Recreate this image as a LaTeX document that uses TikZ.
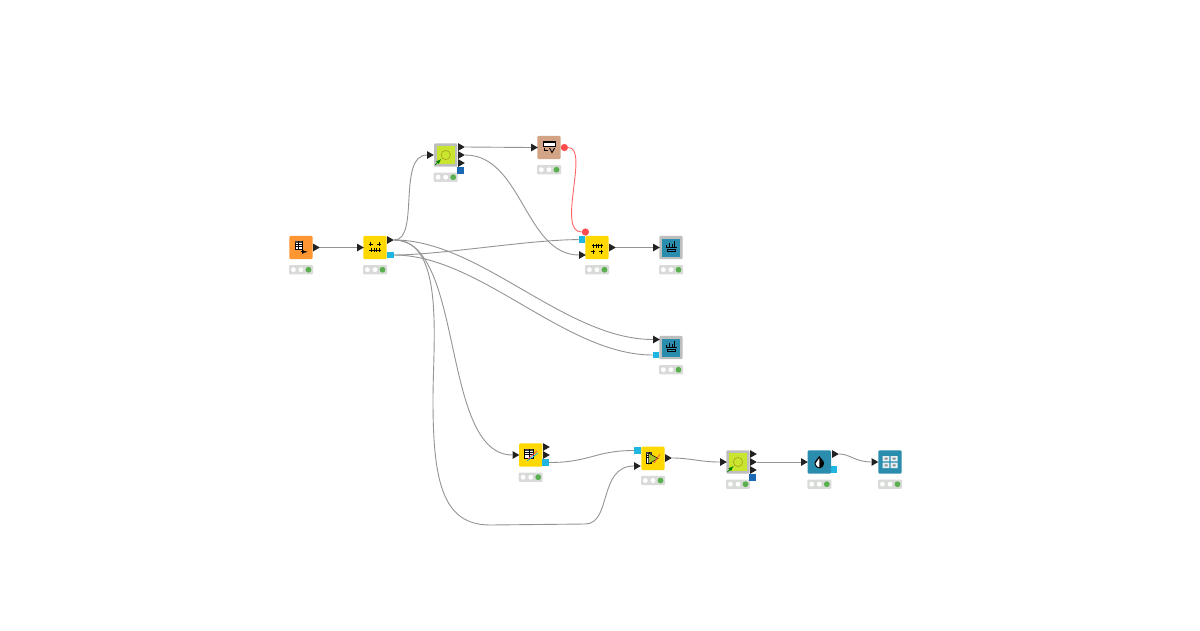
\documentclass[tikz,border=0pt]{standalone}
\usepackage{tikz}
\usetikzlibrary{shapes.geometric}

\definecolor{readercol}{HTML}{FF9632}
\definecolor{manipcol}{HTML}{FFD800}
\definecolor{loopcol}{HTML}{C9E52E}
\definecolor{browncol}{HTML}{D2A384}
\definecolor{vizcol}{HTML}{2B8DAE}
\definecolor{framecol}{HTML}{BDBFBF}
\definecolor{barcol}{HTML}{D9DBD9}
\definecolor{okcol}{HTML}{5AAF4E}
\definecolor{cyancol}{HTML}{1FB6E2}
\definecolor{varcol}{HTML}{1B69B2}
\definecolor{redcol}{HTML}{FF4B4B}
\definecolor{wirecol}{HTML}{949494}
\definecolor{tipcol}{HTML}{222222}

\tikzset{
    knode/.style={draw=none,rounded corners=1.2pt,minimum size=23.4pt,inner sep=0,fill=#1},
    innerbox/.style={draw=none,minimum size=18pt,inner sep=0,fill=#1},
    statusbar/.style={fill=barcol,rounded corners=1pt,minimum width=24pt,minimum height=9.4pt,inner sep=0},
    lamp/.style={circle,fill=white,minimum size=4.8pt,inner sep=0},
    port/.style={isosceles triangle,isosceles triangle apex angle=60,anchor=lower side,fill=tipcol,minimum height=6.6pt,minimum width=7.6pt,inner sep=0},
    tableport/.style={fill=cyancol,minimum size=6.6pt,inner sep=0},
    varport/.style={fill=varcol,minimum size=6.6pt,inner sep=0},
    flowport/.style={circle,fill=redcol,minimum size=7.2pt,inner sep=0},
    wire/.style={draw=wirecol,line width=0.9pt},
    flowwire/.style={draw=redcol!85!white,line width=0.9pt},
    icon/.style={line width=0.7pt,black},
}

% status lights below a node
\newcommand{\lights}[3]{%
    \node[statusbar] (#1bar) at (#2,#3+22.2) {};
    \node[lamp] (#1a) at (#2-7.6,#3+22.2) {};
    \node[lamp] (#1b) at (#2,#3+22.2) {};
    \node[lamp,fill=okcol,minimum size=5.8pt] (#1c) at (#2+7.5,#3+22.2) {};
}
\newcommand{\plusmark}[2]{%
    \draw[icon,line width=0.8pt] (#1-2.2,#2) -- (#1+2.2,#2) (#1,#2-2.2) -- (#1,#2+2.2);
}
\newcommand{\minitable}[4]{%
    \fill[white] (#1,#2) rectangle (#3,#4);
    \draw[icon,line width=0.6pt] (#1,#2) rectangle (#3,#4);
    \fill[black!75] (#1,#2) rectangle (#3,#2+1.8);
    \draw[black,line width=0.35pt] (#1,#2+3.6) -- (#3,#2+3.6) (#1,#2+5.4) -- (#3,#2+5.4)
        ({(#1+#3)/2},#2) -- ({(#1+#3)/2},#4);
}
\newcommand{\loopicon}[2]{%
    \draw[olive!80,line width=0.6pt] (#1,#2) circle (4.6);
    \draw[green!50!black,line width=0.8pt,-latex] (#1-10.6,#2+10) -- (#1-4.5,#2+4);
}
\newcommand{\charticon}[2]{%
    \draw[icon,line width=0.6pt] (#1-5.5,#2+2) -- (#1+5.5,#2+2) (#1-4,#2+4) rectangle (#1+4,#2+6);
    \draw[icon,line width=0.8pt] (#1-4.5,#2+1) -- (#1-4.5,#2-1) (#1-1.8,#2+1) -- (#1-1.8,#2-3)
        (#1+1,#2+1) -- (#1+1,#2-1.5) (#1+3.6,#2+1) -- (#1+3.6,#2-5);
}

\begin{document}
\begin{tikzpicture}[x=1pt,y=-1pt]
    \useasboundingbox (0,0) rectangle (1200,630);
    \fill[white] (0,0) rectangle (1200,630);

    % nodes
    \node[knode=readercol] (reader) at (301,247.5) {};
    \node[knode=manipcol] (partition) at (375,247.5) {};
    \node[knode=framecol] (loopstart) at (445.7,155) {};
    \node[innerbox=loopcol] (loopstartbox) at (445.7,155) {};
    \node[knode=browncol] (filter) at (549,147.5) {};
    \node[knode=manipcol] (joiner) at (597,247.5) {};
    \node[knode=framecol] (vizone) at (671,247.5) {};
    \node[innerbox=vizcol] (vizonebox) at (671,247.5) {};
    \node[knode=framecol] (viztwo) at (671,347.5) {};
    \node[innerbox=vizcol] (viztwobox) at (671,347.5) {};
    \node[knode=manipcol] (learner) at (530.7,455) {};
    \node[knode=manipcol] (predictor) at (653,458.3) {};
    \node[knode=framecol] (loopend) at (738,462) {};
    \node[innerbox=loopcol] (loopendbox) at (738,462) {};
    \node[knode=vizcol] (drop) at (819.3,462) {};
    \node[knode=vizcol] (summary) at (890,462) {};

    \lights{reader}{301}{247.5}
    \lights{partition}{375}{247.5}
    \lights{loopstart}{445.7}{155}
    \lights{filter}{549}{147.5}
    \lights{joiner}{597}{247.5}
    \lights{vizone}{671}{247.5}
    \lights{viztwo}{671}{347.5}
    \lights{learner}{530.7}{455}
    \lights{predictor}{653}{458.3}
    \lights{loopend}{738}{462}
    \lights{drop}{819.3}{462}
    \lights{summary}{890}{462}

    % ports
    \node[port] (readerout) at (313,247.5) {};
    \node[port] (partitionin) at (357,247.5) {};
    \node[port] (partitionout) at (387,240) {};
    \node[tableport] (partitiontab) at (390.4,255) {};
    \node[port] (loopstartin) at (427,155) {};
    \node[port] (loopstarta) at (458,147) {};
    \node[port] (loopstartb) at (458,155) {};
    \node[port] (loopstartc) at (458,163) {};
    \node[varport] (loopstartvar) at (460.6,170.5) {};
    \node[port] (filterin) at (531,147.5) {};
    \node[flowport] (filterflow) at (564.4,147.5) {};
    \node[port] (joinerin) at (579,255) {};
    \node[tableport] (joinertab) at (582,239.6) {};
    \node[flowport] (joinerflow) at (585.4,232) {};
    \node[port] (joinerout) at (609,247.5) {};
    \node[port] (vizonein) at (653,247.5) {};
    \node[port] (viztwoin) at (653,339.5) {};
    \node[tableport] (viztwotab) at (656,355) {};
    \node[port] (learnerin) at (512.5,455) {};
    \node[port] (learnera) at (543,447) {};
    \node[port] (learnerb) at (543,455) {};
    \node[tableport] (learnertab) at (545.7,462.5) {};
    \node[tableport] (predictortab) at (637.6,450.5) {};
    \node[port] (predictorin) at (634,466) {};
    \node[port] (predictorout) at (665,458) {};
    \node[port] (loopendin) at (720,462) {};
    \node[port] (loopenda) at (750,454) {};
    \node[port] (loopendb) at (750,462) {};
    \node[port] (loopendc) at (750,470) {};
    \node[varport] (loopendvar) at (752.7,477.6) {};
    \node[port] (dropin) at (801,462) {};
    \node[port] (dropout) at (832,454) {};
    \node[tableport] (droptab) at (834,469.5) {};
    \node[port] (summaryin) at (871.5,462) {};

    % connectors
    \draw[wire] (readerout.apex) -- (partitionin.lower side);
    \draw[wire] (partitionout.apex) .. controls (420,240) and (397,155) .. (loopstartin.lower side);
    \draw[wire] (partitionout.apex) .. controls (480,240) and (565,339.5) .. (viztwoin.lower side);
    \draw[wire] (partitiontab.east) .. controls (480,255) and (565,355) .. (viztwotab.west);
    \draw[wire] (partitiontab.east) .. controls (440,255) and (530,239.6) .. (joinertab.west);
    \draw[wire] (partitionout.apex) .. controls (465,240) and (440,455) .. (learnerin.lower side);
    \draw[wire] (partitionout.apex) .. controls (445,240) and (433,340) .. (433,400)
        .. controls (433,480) and (442,525) .. (490,525) -- (585,524)
        .. controls (612,524) and (598,466) .. (predictorin.lower side);
    \draw[wire] (loopstarta.apex) -- (filterin.lower side);
    \draw[wire] (loopstartb.apex) .. controls (522,155) and (525,255) .. (joinerin.lower side);
    \draw[wire] (joinerout.apex) -- (vizonein.lower side);
    \draw[wire] (learnertab.east) .. controls (590,462.5) and (595,450.5) .. (predictortab.west);
    \draw[wire] (predictorout.apex) .. controls (690,458) and (700,462) .. (loopendin.lower side);
    \draw[wire] (loopendb.apex) -- (dropin.lower side);
    \draw[wire] (dropout.apex) .. controls (850,454) and (855,462) .. (summaryin.lower side);
    \draw[flowwire] (filterflow.east) .. controls (590,147.5) and (556,232) .. (joinerflow.west);

    % icons
    \minitable{295}{241}{302}{249}
    \draw[icon,line width=0.9pt,-latex] (300.5,251.8) -- (307.5,251.8);

    \plusmark{370.7}{244}\plusmark{379}{244}
    \draw[icon] (369,250) -- (381,250);
    \foreach \tx in {371,374,376.5,379} {\draw[icon,line width=0.5pt] (\tx,247.8) -- (\tx,252.4);}

    \plusmark{593}{251.7}\plusmark{601}{251.7}
    \draw[icon] (591.5,245.7) -- (603,245.7);
    \foreach \tx in {593.5,596,598.5,601} {\draw[icon,line width=0.5pt] (\tx,243.5) -- (\tx,248);}

    \loopicon{445.7}{155}
    \loopicon{738}{462}

    \draw[icon,fill=white] (543.4,141.8) rectangle (555,146.6);
    \fill[black] (543.4,141.8) rectangle (555,143);
    \draw[icon,line width=0.7pt] (544.6,148) -- (544.6,150.6) -- (548,150.6);
    \draw[icon,line width=0.9pt] (549.6,148) -- (552,152.6) -- (554.6,148);

    \charticon{671}{245.5}
    \charticon{671}{345.5}

    \minitable{524.5}{449}{533}{458}
    \draw[cyancol,line width=0.8pt] (527,461) -- (538,453);
    \draw[redcol,line width=0.8pt] (528,459) -- (537,451);

    \minitable{646}{452}{651.5}{463}
    \fill[loopcol!85!black] (648.5,453) -- (658,458.5) -- (648.5,464) -- cycle;
    \draw[icon,line width=0.5pt] (648.5,453) -- (658,458.5) -- (648.5,464) -- cycle;
    \draw[redcol,line width=0.7pt] (654,463) -- (660,454);

    \fill[black] (819.3,456) .. controls (818.5,458) and (814.5,460.5) .. (814.5,463.5)
        .. controls (814.5,466.4) and (817,468.3) .. (819.3,468.3)
        .. controls (821.6,468.3) and (824.1,466.4) .. (824.1,463.5)
        .. controls (824.1,460.5) and (820.1,458) .. (819.3,456);
    \fill[white] (819.3,458.3) .. controls (819.3,460.5) and (815.6,461) .. (815.6,463.5)
        .. controls (815.6,465.7) and (817.8,467.2) .. (819.3,467.2) -- cycle;

    \fill[white!88!vizcol] (882.5,456) rectangle (889.4,461.4) (890.6,456) rectangle (897.5,461.4)
        (882.5,462.6) rectangle (889.4,468) (890.6,462.6) rectangle (897.5,468);
    \fill[black!45] (884.5,457.7) rectangle (887.5,459.7) (892.5,457.7) rectangle (895.5,459.7)
        (884.5,464.3) rectangle (887.5,466.3) (892.5,464.3) rectangle (895.5,466.3);
    \end{tikzpicture}
\end{document}
